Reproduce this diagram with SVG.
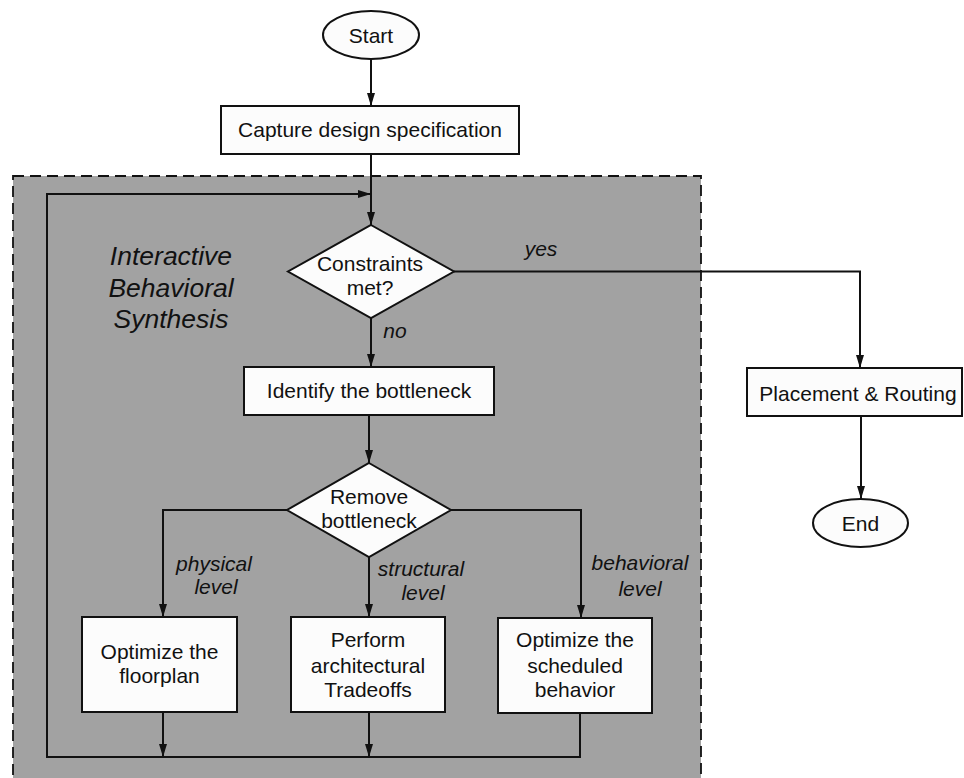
<svg xmlns="http://www.w3.org/2000/svg" width="964" height="778" viewBox="0 0 964 778">
<style>
.n{fill:#fcfcfc;stroke:#111;stroke-width:2}
.c{fill:none;stroke:#111;stroke-width:2}
.t{font-family:"Liberation Sans",Arial,sans-serif;font-size:21px;fill:#111;text-anchor:middle}
.l{font-family:"Liberation Sans",Arial,sans-serif;font-size:21px;font-style:italic;fill:#111;text-anchor:middle}
.s{font-family:"Liberation Sans",Arial,sans-serif;font-size:26.5px;font-style:italic;fill:#111;text-anchor:middle}
</style>
<defs>
<marker id="a" viewBox="0 0 13 8" refX="13" refY="4" markerWidth="13" markerHeight="8" markerUnits="userSpaceOnUse" orient="auto">
<path d="M0,0 L13,4 L0,8 z" fill="#111"/>
</marker>
</defs>
<rect width="964" height="778" fill="#ffffff"/>
<g id="region">
<rect x="13" y="176" width="688" height="640" fill="#a2a2a2" stroke="#111" stroke-width="1.8" stroke-dasharray="11,6"/>
<text class="s" x="171" y="265">Interactive</text>
<text class="s" x="171" y="297">Behavioral</text>
<text class="s" x="171" y="328">Synthesis</text>
</g>
<g id="connectors">
<path class="c" d="M371,59 V106" marker-end="url(#a)"/>
<path class="c" d="M371,154 V225" marker-end="url(#a)"/>
<path class="c" d="M580,713 V757 H47 V194 H371" marker-end="url(#a)"/>
<path class="c" d="M163,712 V757" marker-end="url(#a)"/>
<path class="c" d="M369,712 V757" marker-end="url(#a)"/>
<path class="c" d="M454,271.5 H860 V368" marker-end="url(#a)"/>
<path class="c" d="M371,318 V367" marker-end="url(#a)"/>
<path class="c" d="M369,415 V463" marker-end="url(#a)"/>
<path class="c" d="M287,510 H163 V617" marker-end="url(#a)"/>
<path class="c" d="M369,557 V617" marker-end="url(#a)"/>
<path class="c" d="M451,510 H581 V618" marker-end="url(#a)"/>
<path class="c" d="M861,416 V499" marker-end="url(#a)"/>
<text class="l" x="541" y="256">yes</text>
<text class="l" x="395" y="338">no</text>
<text class="l" x="214" y="571">physical</text>
<text class="l" x="216" y="594">level</text>
<text class="l" x="421" y="576">structural</text>
<text class="l" x="423" y="600">level</text>
<text class="l" x="640" y="570">behavioral</text>
<text class="l" x="640" y="596">level</text>
</g>
<g id="start">
<ellipse class="n" cx="371" cy="35" rx="48" ry="24"/>
<text class="t" x="371" y="43">Start</text>
</g>
<g id="capture">
<rect class="n" x="221" y="106" width="298" height="48"/>
<text class="t" x="370" y="137">Capture design specification</text>
</g>
<g id="constraints">
<polygon class="n" points="371,225 454,271.5 371,318 288,271.5"/>
<text class="t" x="370" y="271">Constraints</text>
<text class="t" x="370" y="295">met?</text>
</g>
<g id="identify">
<rect class="n" x="244" y="367" width="250" height="48"/>
<text class="t" x="369" y="398">Identify the bottleneck</text>
</g>
<g id="remove">
<polygon class="n" points="369,463 451,510 369,557 287,510"/>
<text class="t" x="369" y="504">Remove</text>
<text class="t" x="369" y="528">bottleneck</text>
</g>
<g id="floorplan">
<rect class="n" x="82" y="617" width="155" height="95"/>
<text class="t" x="159.5" y="659">Optimize the</text>
<text class="t" x="159.5" y="683">floorplan</text>
</g>
<g id="tradeoffs">
<rect class="n" x="291" y="617" width="154" height="95"/>
<text class="t" x="368" y="647">Perform</text>
<text class="t" x="368" y="673">architectural</text>
<text class="t" x="368" y="697">Tradeoffs</text>
</g>
<g id="scheduled">
<rect class="n" x="498" y="618" width="154" height="95"/>
<text class="t" x="575" y="647">Optimize the</text>
<text class="t" x="575" y="673">scheduled</text>
<text class="t" x="575" y="697">behavior</text>
</g>
<g id="placement">
<rect class="n" x="747" y="368" width="215" height="48"/>
<text class="t" x="858" y="401">Placement &amp; Routing</text>
</g>
<g id="end">
<ellipse class="n" cx="860.5" cy="523" rx="47.5" ry="24"/>
<text class="t" x="860.5" y="531">End</text>
</g>
</svg>
